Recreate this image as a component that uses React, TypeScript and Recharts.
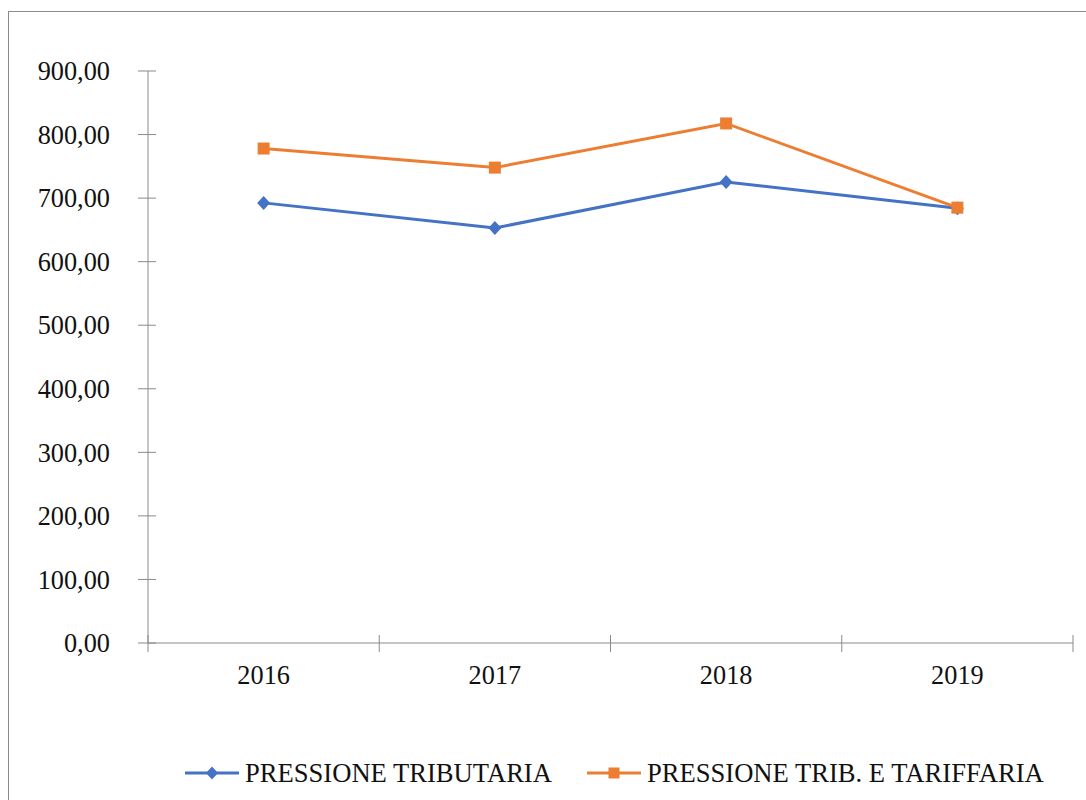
import { LineChart, Line, XAxis, YAxis, Legend } from "recharts";

const years = ["2016", "2017", "2018", "2019"];
const tributaria = [692.5, 653, 725.5, 684];
const tribTariffaria = [778, 748, 817.5, 685];
const yTicks = [0, 100, 200, 300, 400, 500, 600, 700, 800, 900];
const xTicks = [0, 0.5, 1, 1.5, 2, 2.5, 3, 3.5, 4];

const BLUE = "#4472C4";
const ORANGE = "#ED7D31";
const AXIS = "#8a8a8a";
const FONT = "'Liberation Serif', 'Times New Roman', serif";

const data = years.map((year, i) => ({
  pos: i + 0.5,
  year,
  tributaria: tributaria[i],
  tariffaria: tribTariffaria[i],
}));

const fmt = (v: number) => v.toFixed(2).replace(".", ",");

const YTick = ({ x, y, payload }: any) => (
  <g>
    <line x1={x - 10} x2={x + 8} y1={y} y2={y} stroke={AXIS} />
    <text x={x - 38} y={y} dy="0.35em" textAnchor="end" fontSize={26.3} fill="#111" fontFamily={FONT}>
      {fmt(payload.value)}
    </text>
  </g>
);

const XTick = ({ x, y, payload }: any) => {
  if (Number.isInteger(payload.value)) {
    return <line x1={x} x2={x} y1={y - 8} y2={y + 9} stroke={AXIS} />;
  }
  return (
    <text x={x} y={y + 32} dy="0.35em" textAnchor="middle" fontSize={26.3} fill="#111" fontFamily={FONT}>
      {years[Math.floor(payload.value)]}
    </text>
  );
};

const Diamond = ({ cx, cy, key }: any) =>
  cx == null ? null : (
    <path key={key} d={`M${cx},${cy - 7} L${cx + 6.5},${cy} L${cx},${cy + 7} L${cx - 6.5},${cy} Z`} fill={BLUE} />
  );

const Square = ({ cx, cy, key }: any) =>
  cx == null ? null : <rect key={key} x={cx - 6} y={cy - 6} width={12} height={12} fill={ORANGE} />;

const LegendIcon = ({ color, shape }: { color: string; shape: "diamond" | "square" }) => (
  <svg width={54} height={16} style={{ display: "block" }}>
    <line x1={0} x2={54} y1={8} y2={8} stroke={color} strokeWidth={3} />
    {shape === "diamond" ? (
      <path d="M27,1.5 L33,8 L27,14.5 L21,8 Z" fill={color} />
    ) : (
      <rect x={21.5} y={2.5} width={11} height={11} fill={color} />
    )}
  </svg>
);

const CustomLegend = () => (
  <div
    style={{
      height: 97,
      boxSizing: "border-box",
      paddingTop: 55,
      paddingLeft: 185,
      display: "flex",
      alignItems: "flex-start",
      fontFamily: FONT,
      fontSize: 26.6,
      color: "#111",
      lineHeight: "30px",
    }}
  >
    <div style={{ display: "flex", alignItems: "center" }}>
      <LegendIcon color={BLUE} shape="diamond" />
      <span style={{ marginLeft: 6 }}>PRESSIONE TRIBUTARIA</span>
    </div>
    <div style={{ display: "flex", alignItems: "center", marginLeft: 35 }}>
      <LegendIcon color={ORANGE} shape="square" />
      <span style={{ marginLeft: 6 }}>PRESSIONE TRIB. E TARIFFARIA</span>
    </div>
  </div>
);

export default function App() {
  return (
    <div
      style={{
        position: "fixed",
        left: 0,
        top: 0,
        width: 1086,
        height: 800,
        overflow: "hidden",
        background: "#fff",
        fontFamily: FONT,
      }}
    >
      <div
        style={{
          position: "absolute",
          left: 8,
          top: 11,
          width: 1100,
          height: 820,
          borderLeft: "1px solid #8c8c8c",
          borderTop: "1px solid #8c8c8c",
        }}
      />
      <div style={{ position: "absolute", left: 0, top: 0 }}>
        <LineChart width={1086} height={800} data={data} margin={{ top: 71, right: 13, left: 0, bottom: 0 }}>
          <XAxis
            dataKey="pos"
            type="number"
            domain={[0, 4]}
            ticks={xTicks}
            interval={0}
            tick={<XTick />}
            tickLine={false}
            tickSize={0}
            tickMargin={0}
            height={60}
            stroke={AXIS}
          />
          <YAxis
            type="number"
            domain={[0, 900]}
            ticks={yTicks}
            interval={0}
            tick={<YTick />}
            tickLine={false}
            tickSize={0}
            tickMargin={0}
            width={148}
            stroke={AXIS}
          />
          <Legend verticalAlign="bottom" content={<CustomLegend />} wrapperStyle={{ left: 0, width: 1086 }} />
          <Line
            type="linear"
            dataKey="tributaria"
            name="PRESSIONE TRIBUTARIA"
            stroke={BLUE}
            strokeWidth={3}
            dot={<Diamond />}
            activeDot={false}
            isAnimationActive={false}
          />
          <Line
            type="linear"
            dataKey="tariffaria"
            name="PRESSIONE TRIB. E TARIFFARIA"
            stroke={ORANGE}
            strokeWidth={3}
            dot={<Square />}
            activeDot={false}
            isAnimationActive={false}
          />
        </LineChart>
      </div>
    </div>
  );
}
